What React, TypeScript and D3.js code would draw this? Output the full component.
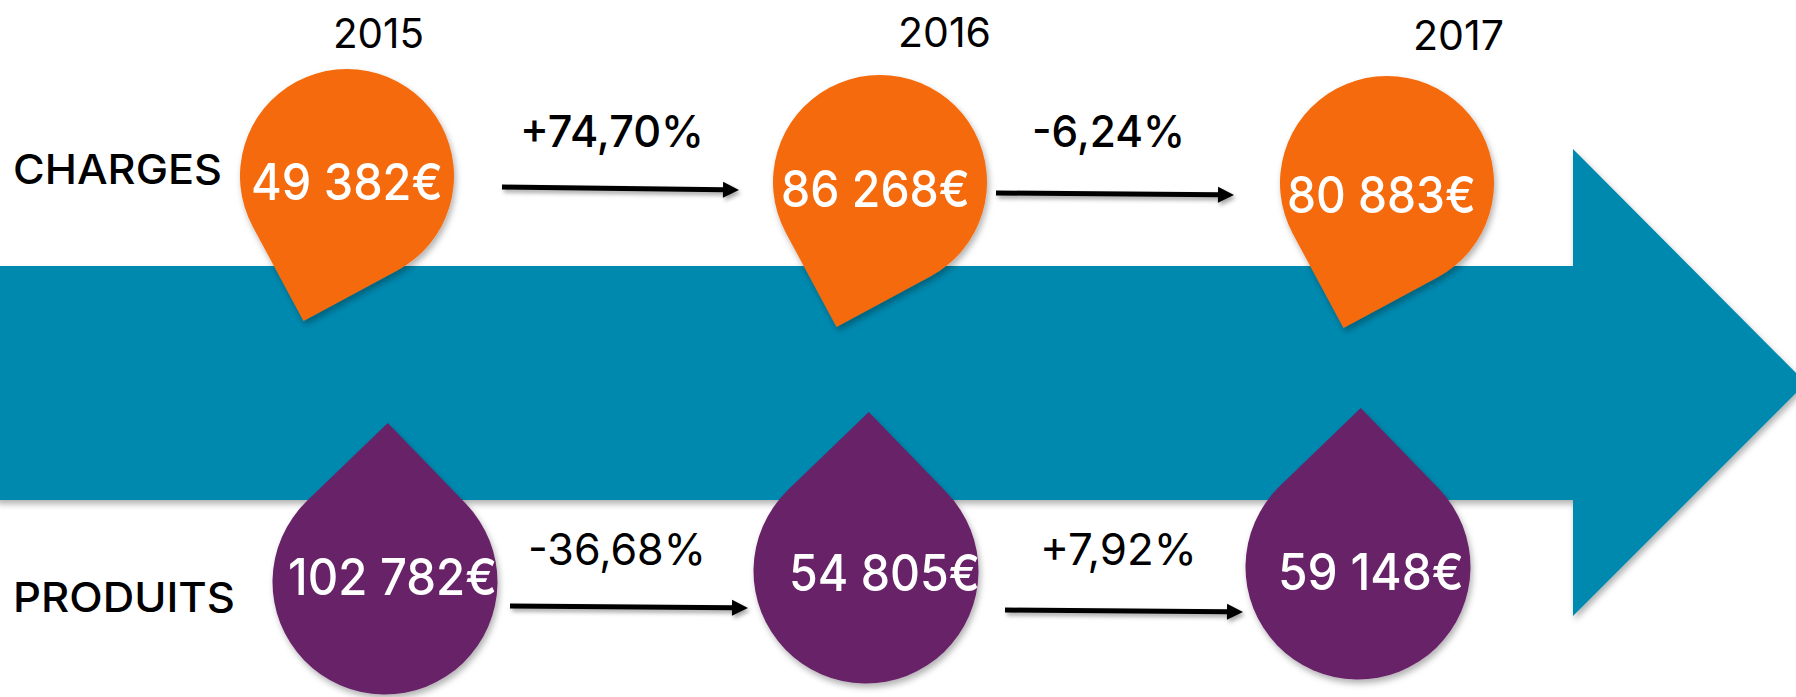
import React from "react";
import * as d3 from "d3";

// ---------- data ----------
const years = ["2015", "2016", "2017"];
const chargesValues = [49382, 86268, 80883];
const produitsValues = [102782, 54805, 59148];
const chargesChanges = ["+74,70%", "-6,24%"];
const produitsChanges = ["-36,68%", "+7,92%"];
const rowLabels = ["CHARGES", "PRODUITS"];

// ---------- layout ----------
const W = 1796;
const H = 697;
const COLORS = { band: "#0089AF", charges: "#F46B0C", produits: "#672367", text: "#000000" };
const FONT = "Inter, 'Open Sans', sans-serif";

const col = d3.scalePoint<string>().domain(years).range([360, 1380]);

const chargeDrop = { nudgeX: [-13, 10, 7], cy: [176, 182, 183], r: 107, angle: 106.7 };
const produitDrop = { nudgeX: [25, -4, -22], cy: [582, 571, 567], r: 112.5, angle: -89 };

const chargeText = { x: [251, 781, 1287], w: [192, 189, 189], y: [200, 207, 213] };
const produitText = { x: [288, 789, 1278], w: [209, 191, 186], y: [595, 591, 590] };

const yearText = { x: [333, 898, 1413], w: [91, 93, 91], y: [48, 47, 50] };
const chargeChangeText = { x: [520, 1032], w: [184, 153], y: [147, 147] };
const produitChangeText = { x: [528, 1040], w: [178, 157], y: [565, 565] };
const rowLabelText = { x: [13, 13], w: [209, 222], y: [184, 612] };

const chargeArrows = [
  { x1: 502, y1: 187, x2: 739, y2: 190 },
  { x1: 996, y1: 193, x2: 1234, y2: 195 },
];
const produitArrows = [
  { x1: 510, y1: 606, x2: 748, y2: 608 },
  { x1: 1005, y1: 610, x2: 1243, y2: 612 },
];

const band = { top: 266, bottom: 500, bodyEnd: 1573, headTop: 149, headBottom: 616 };

// teardrop: circle with one quadrant replaced by a point at distance r*sqrt2
function dropPath(cx: number, cy: number, r: number, angleDeg: number) {
  const a = (angleDeg * Math.PI) / 180;
  const d = r * Math.SQRT2;
  const p = d3.path();
  const px = cx + d * Math.cos(a);
  const py = cy + d * Math.sin(a);
  const a1 = a + Math.PI / 4;
  const a2 = a - Math.PI / 4 + 2 * Math.PI;
  p.moveTo(px, py);
  p.lineTo(cx + r * Math.cos(a1), cy + r * Math.sin(a1));
  p.arc(cx, cy, r, a1, a2, false);
  p.closePath();
  return p.toString();
}

function bandPath() {
  const midY = (band.top + band.bottom) / 2;
  const tipX = band.bodyEnd + (band.headBottom - midY);
  const line = d3.line();
  return (
    line([
      [-5, band.top],
      [band.bodyEnd, band.top],
      [band.bodyEnd, band.headTop],
      [tipX, midY],
      [band.bodyEnd, band.headBottom],
      [band.bodyEnd, band.bottom],
      [-5, band.bottom],
    ]) + "Z"
  );
}

function Arrow({ x1, y1, x2, y2 }: { x1: number; y1: number; x2: number; y2: number }) {
  const ang = Math.atan2(y2 - y1, x2 - x1);
  const headLen = 16;
  const headHalf = 8;
  const bx = x2 - headLen * Math.cos(ang);
  const by = y2 - headLen * Math.sin(ang);
  const nx = -Math.sin(ang);
  const ny = Math.cos(ang);
  const head = d3.path();
  head.moveTo(x2, y2);
  head.lineTo(bx + nx * headHalf, by + ny * headHalf);
  head.lineTo(bx - nx * headHalf, by - ny * headHalf);
  head.closePath();
  return (
    <g filter="url(#shadowSmall)">
      <line x1={x1} y1={y1} x2={bx + 1} y2={by} stroke="#000" strokeWidth={5} />
      <path d={head.toString()} fill="#000" />
    </g>
  );
}

function Label({ x, y, w, size, text, fill = "#000", weight = 400 }: any) {
  return (
    <text
      x={x}
      y={y}
      fontSize={size}
      fontFamily={FONT}
      fontWeight={weight}
      fill={fill}
      textLength={w}
      lengthAdjust="spacingAndGlyphs"
    >
      {text}
    </text>
  );
}

const fmt = (v: number) => d3.format(",")(v).replace(/,/g, " ") + "€";

export default function App() {
  return (
    <svg
      width={W}
      height={H}
      viewBox={`0 0 ${W} ${H}`}
      style={{ position: "absolute", left: 0, top: 0, display: "block", background: "#fff" }}
    >
      <defs>
        <filter id="shadow" x="-20%" y="-20%" width="140%" height="150%">
          <feDropShadow dx="2" dy="4" stdDeviation="3" floodColor="#000" floodOpacity="0.3" />
        </filter>
        <filter id="shadowSmall" x="-5%" y="-100%" width="110%" height="300%">
          <feDropShadow dx="2" dy="3" stdDeviation="2" floodColor="#000" floodOpacity="0.35" />
        </filter>
      </defs>

      <path d={bandPath()} fill={COLORS.band} filter="url(#shadow)" />

      {years.map((y, i) => (
        <path
          key={"c" + y}
          d={dropPath(col(y)! + chargeDrop.nudgeX[i], chargeDrop.cy[i], chargeDrop.r, chargeDrop.angle)}
          fill={COLORS.charges}
          filter="url(#shadow)"
        />
      ))}
      {years.map((y, i) => (
        <path
          key={"p" + y}
          d={dropPath(col(y)! + produitDrop.nudgeX[i], produitDrop.cy[i], produitDrop.r, produitDrop.angle)}
          fill={COLORS.produits}
          filter="url(#shadow)"
        />
      ))}

      {chargeArrows.map((a, i) => (
        <Arrow key={"ca" + i} {...a} />
      ))}
      {produitArrows.map((a, i) => (
        <Arrow key={"pa" + i} {...a} />
      ))}

      {chargesValues.map((v, i) => (
        <Label key={"cv" + i} x={chargeText.x[i]} y={chargeText.y[i]} w={chargeText.w[i]} size={51} text={fmt(v)} fill="#fff" weight={500} />
      ))}
      {produitsValues.map((v, i) => (
        <Label key={"pv" + i} x={produitText.x[i]} y={produitText.y[i]} w={produitText.w[i]} size={51} text={fmt(v)} fill="#fff" weight={500} />
      ))}

      {years.map((y, i) => (
        <Label key={"y" + y} x={yearText.x[i]} y={yearText.y[i]} w={yearText.w[i]} size={41} text={y} />
      ))}
      {chargesChanges.map((t, i) => (
        <Label key={"cc" + i} x={chargeChangeText.x[i]} y={chargeChangeText.y[i]} w={chargeChangeText.w[i]} size={44} text={t} weight={500} />
      ))}
      {produitsChanges.map((t, i) => (
        <Label key={"pc" + i} x={produitChangeText.x[i]} y={produitChangeText.y[i]} w={produitChangeText.w[i]} size={44} text={t} />
      ))}
      {rowLabels.map((t, i) => (
        <Label key={"rl" + i} x={rowLabelText.x[i]} y={rowLabelText.y[i]} w={rowLabelText.w[i]} size={41} text={t} weight={500} />
      ))}
    </svg>
  );
}
